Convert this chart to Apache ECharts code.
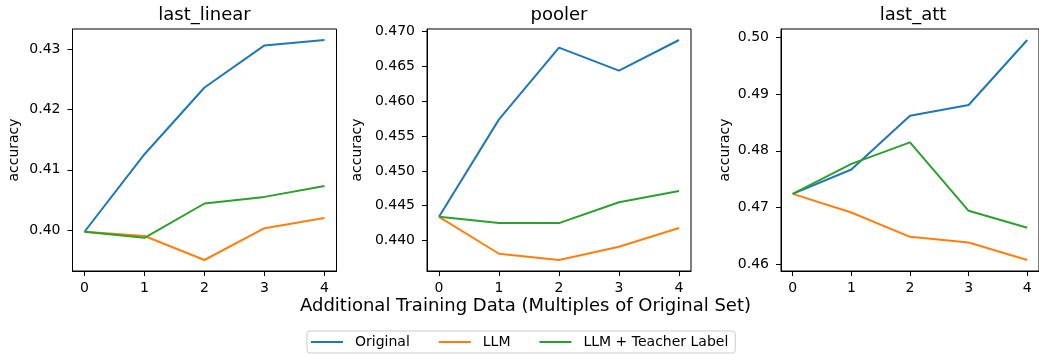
<!DOCTYPE html>
<html>
<head>
<meta charset="utf-8">
<script src="https://cdn.jsdelivr.net/npm/echarts@6/dist/echarts.min.js"></script>
<style>
  html, body { margin: 0; padding: 0; background: #fff; }
  #main { width: 1039px; height: 354px; }
</style>
</head>
<body>
<div id="main"></div>
<script>
// data
var xs = [0, 1, 2, 3, 4];
var seriesNames = ['Original', 'LLM', 'LLM + Teacher Label'];
var panelTitles = ['last_linear', 'pooler', 'last_att'];

var lastLinearOriginal = [0.3997, 0.4126, 0.4237, 0.4307, 0.4316];
var lastLinearLLM      = [0.3997, 0.3990, 0.3950, 0.4003, 0.4020];
var lastLinearTeacher  = [0.3997, 0.3987, 0.4044, 0.4055, 0.4073];

var poolerOriginal = [0.4434, 0.4574, 0.4677, 0.4644, 0.4688];
var poolerLLM      = [0.4434, 0.4381, 0.4372, 0.4391, 0.4418];
var poolerTeacher  = [0.4434, 0.4425, 0.4425, 0.4455, 0.4471];

var lastAttOriginal = [0.4724, 0.4767, 0.4862, 0.4881, 0.4996];
var lastAttLLM      = [0.4724, 0.4691, 0.4648, 0.4638, 0.4607];
var lastAttTeacher  = [0.4724, 0.4777, 0.4815, 0.4694, 0.4664];

var linearTicks = [0.40, 0.41, 0.42, 0.43];
var poolerTicks = [0.440, 0.445, 0.450, 0.455, 0.460, 0.465, 0.470];
var attTicks    = [0.46, 0.47, 0.48, 0.49, 0.50];

var colors = ['#1f77b4', '#ff7f0e', '#2ca02c'];
var FONT = 'DejaVu Sans';

var panels = [
    {title: panelTitles[0], data: [lastLinearOriginal, lastLinearLLM, lastLinearTeacher], ticks: linearTicks, dec: 2, left: 72.5,  nameGap: 51},
    {title: panelTitles[1], data: [poolerOriginal, poolerLLM, poolerTeacher],             ticks: poolerTicks, dec: 3, left: 427, nameGap: 63},
    {title: panelTitles[2], data: [lastAttOriginal, lastAttLLM, lastAttTeacher],          ticks: attTicks,    dec: 2, left: 781, nameGap: 49}
];
var gridTop = 29, gridH = 242, gridW = 264;

// matplotlib style 5% margins
function range(arrs) {
    var all = [].concat.apply([], arrs);
    var lo = Math.min.apply(null, all), hi = Math.max.apply(null, all);
    var m = (hi - lo) * 0.05;
    return [lo - m, hi + m];
}

var grids = [], xAxes = [], yAxes = [], series = [], graphics = [];

panels.forEach(function (p, i) {
    grids.push({
        left: p.left, top: gridTop, width: gridW, height: gridH,
        show: true, borderColor: '#000', borderWidth: 1, backgroundColor: 'transparent'
    });
    xAxes.push({
        gridIndex: i, type: 'value', min: -0.2, max: 4.2,
        axisLine: {show: true, onZero: false, lineStyle: {color: '#000'}},
        axisTick: {show: true, length: 5, customValues: xs, lineStyle: {color: '#000'}},
        axisLabel: {customValues: xs, margin: 10, color: '#000', fontFamily: FONT, fontSize: 14},
        splitLine: {show: false}
    });
    var r = range(p.data);
    yAxes.push({
        gridIndex: i, type: 'value', min: r[0], max: r[1],
        name: 'accuracy', nameLocation: 'middle', nameGap: p.nameGap,
        nameTextStyle: {color: '#000', fontFamily: FONT, fontSize: 14},
        axisLine: {show: true, onZero: false, lineStyle: {color: '#000'}},
        axisTick: {show: true, length: 5, customValues: p.ticks, lineStyle: {color: '#000'}},
        axisLabel: {
            customValues: p.ticks, margin: 12, color: '#000', fontFamily: FONT, fontSize: 14,
            formatter: (function (d) { return function (v) { return v.toFixed(d); }; })(p.dec)
        },
        splitLine: {show: false}
    });
    p.data.forEach(function (vals, k) {
        series.push({
            name: seriesNames[k], type: 'line', xAxisIndex: i, yAxisIndex: i,
            data: xs.map(function (x, j) { return [x, vals[j]]; }),
            showSymbol: false, symbol: 'none',
            lineStyle: {width: 2, color: colors[k]}, itemStyle: {color: colors[k]},
            animation: false
        });
    });
    graphics.push({
        type: 'text', x: p.left + gridW / 2, y: 15,
        style: {text: p.title, font: '18px "DejaVu Sans"', fill: '#000', textAlign: 'center', textVerticalAlign: 'middle'}
    });
});

graphics.push({
    type: 'text', x: 525.5, y: 306,
    style: {text: 'Additional Training Data (Multiples of Original Set)', font: '18px "DejaVu Sans"', fill: '#000', textAlign: 'center', textVerticalAlign: 'middle'}
});

var myChart = echarts.init(document.getElementById('main'));
myChart.setOption({
    animation: false,
    grid: grids,
    xAxis: xAxes,
    yAxis: yAxes,
    series: series,
    graphic: graphics,
    legend: {
        data: seriesNames,
        left: 307, top: 331,
        orient: 'horizontal',
        icon: 'rect', itemWidth: 32, itemHeight: 2, itemGap: 29,
        padding: [4, 7, 4, 4],
        borderColor: '#ccc', borderWidth: 1, borderRadius: 3,
        backgroundColor: '#fff',
        textStyle: {color: '#000', fontFamily: FONT, fontSize: 14, padding: [0, 0, 0, 7]}
    }
});
</script>
</body>
</html>
